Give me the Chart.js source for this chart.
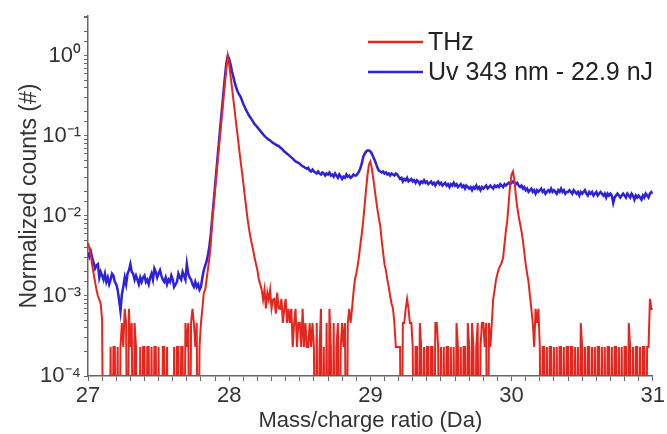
<!DOCTYPE html>
<html>
<head>
<meta charset="utf-8">
<script src="https://cdn.jsdelivr.net/npm/chart.js@4.4.1/dist/chart.umd.min.js"></script>
<style>
html,body{margin:0;padding:0;background:#fff;}
#wrap{width:667px;height:434px;}
</style>
</head>
<body>
<div id="wrap"><canvas id="c" width="667" height="434"></canvas></div>
<script>
// Sampling grid of the mass axis (Da)
const massStart = 27.00;
const massStep = 0.01;

// x-axis labelled ticks
const xTickLabels = [27, 28, 29, 30, 31];
// y-axis labelled decades
const yDecades = [1e-4, 1e-3, 1e-2, 1e-1, 1];
const yDecadeLabels = ['10\u207B\u2074', '10\u207B\u00B3', '10\u207B\u00B2', '10\u207B\u00B9', '10\u2070'];

const seriesNames = ['THz', 'Uv 343 nm - 22.9 nJ'];

// THz normalized counts, one value per 0.01 Da from 27.00 to 31.00 (0 = no counts)
const thz = [
 .0046,.0040,.0032,.0024,.0019,.0015,.0012,.0010,.0009,.0008,
 .0005,0,0,0,0,0,.00023,0,.00023,.00023,
 0,.00023,0,.00023,.00046,.00023,.00069,.00046,0,.00069,
 .00023,.00046,0,.00046,.00023,0,0,.00023,0,.00023,
 .00023,0,.00023,.00023,0,.00023,0,.00023,.00023,0,
 .00023,0,0,.00023,.00023,0,.00023,0,0,0,
 0,.00023,0,.00023,.00023,0,.00023,.00023,0,.00046,
 .00023,.00046,0,.00046,.00069,.00046,.00023,.00046,0,.00023,
 .00046,.00069,.0011,.0012,.0016,.0022,.0030,.0045,.0087,.0135,
 .021,.033,.052,.08,.125,.19,.30,.46,.70,1.0,
 .78,.56,.40,.28,.20,.14,.10,.07,.05,.036,
 .026,.018,.013,.0092,.0070,.0055,.0045,.0037,.0030,.0025,
 .0021,.0016,.0014,.0012,.0009,.0012,.0007,.0011,.0009,.0012,
 .0007,.0009,.00092,.0006,.0011,.0007,.00069,.00092,.00046,.00069,
 .00092,.00046,.00069,.00046,.00069,.00023,.00046,.00069,.00023,.00046,
 .00046,.00023,.00069,.00023,.00046,.00023,.00023,.00046,.00023,.00046,
 .00023,0,.00046,0,.00023,.00069,0,.00023,0,.00046,
 0,.00069,.00023,0,.00046,0,.00023,.00046,0,.00023,
 .00046,.00023,.00046,0,.00046,.00069,.00046,.00069,.0011,.0016,
 .0019,.0024,.0032,.0045,.0062,.009,.014,.022,.033,.044,
 .048,.040,.030,.022,.016,.012,.0095,.0075,.0050,.0035,
 .0025,.0021,.0016,.0013,.0010,.0008,.0007,.00046,.00023,.00023,
 .00023,.00023,0,.00046,.00046,.00069,.00092,.00069,.00046,.00046,
 .00023,0,.00023,.00023,0,.00046,.00023,0,.00023,0,
 .00023,.00023,0,.00023,.00023,0,.00046,.00046,.00023,0,
 .00023,0,.00023,0,.00023,.00023,0,.00023,0,.00023,
 0,.00046,.00023,0,.00023,0,.00023,.00023,0,.00046,
 .00023,0,.00046,.00023,0,.00023,.00046,0,.00023,.00046,
 .00046,.00023,.00046,0,.00046,.00023,.00046,.00092,.0012,.0016,
 .0019,.0022,.0024,.0026,.0030,.0045,.0065,.0090,.015,.025,
 .033,.036,.028,.018,.013,.010,.0080,.0065,.0050,.0035,
 .0025,.0019,.0015,.0010,.00069,.00046,.00023,.00069,.00046,.00069,
 .00023,0,.00023,.00023,0,.00023,0,.00023,.00023,0,
 .00023,0,.00023,0,.00023,.00023,0,.00023,0,.00023,
 .00023,0,.00023,.00023,0,.00023,0,.00023,0,.00046,
 .00023,0,.00023,0,.00023,.00023,0,.00023,0,.00023,
 0,.00023,.00023,0,.00023,0,.00023,0,.00023,.00023,
 0,.00023,0,.00023,.00023,0,.00023,0,.00023,0,
 .00023,.00023,0,.00046,.00023,0,.00023,0,.00023,.00023,
 0,.00023,0,.00023,.00023,0,.00023,.00023,.00092,.00069,
 .00069
];

// UV 343 nm normalized counts, one value per 0.01 Da from 27.00 to 31.00
const uv = [
 .0035,.0031,.0036,.0030,.0026,.0022,.0024,.0025,.0017,.0020,
 .0018,.0016,.0019,.0015,.0017,.0014,.0016,.0019,.0018,.0015,
 .0014,.0012,.0009,.00065,.00105,.0013,.0017,.0014,.0019,.0021,
 .0025,.0020,.0019,.0016,.0018,.0016,.0014,.0017,.0015,.0017,
 .0018,.0015,.0016,.0014,.0017,.0019,.0016,.0022,.0020,.0017,
 .0019,.0021,.0018,.0016,.0015,.0017,.0014,.0016,.0015,.0018,
 .0016,.0013,.0014,.0015,.0019,.0017,.0016,.0020,.0018,.0016,
 .0025,.0019,.0017,.0016,.0014,.0013,.0015,.0013,.0014,.0012,
 .0013,.0017,.0021,.0024,.0027,.0033,.0042,.0060,.0095,.015,
 .024,.038,.06,.095,.15,.23,.36,.55,.82,1.0,
 .92,.78,.64,.54,.46,.40,.36,.33,.31,.28,
 .25,.23,.21,.195,.18,.17,.16,.15,.14,.135,
 .128,.122,.116,.11,.105,.10,.096,.093,.09,.088,
 .085,.082,.08,.078,.076,.075,.072,.07,.067,.064,
 .062,.06,.058,.056,.054,.052,.05,.048,.047,.046,
 .045,.043,.042,.041,.04,.039,.04,.037,.036,.038,
 .036,.035,.034,.036,.034,.033,.035,.034,.032,.034,
 .033,.035,.032,.033,.031,.034,.032,.03,.033,.031,
 .029,.031,.030,.033,.031,.032,.030,.031,.033,.032,
 .032,.034,.036,.040,.046,.055,.060,.064,.066,.066,
 .064,.060,.055,.050,.045,.040,.037,.036,.035,.036,
 .034,.035,.033,.034,.032,.034,.033,.032,.034,.033,
 .031,.029,.030,.027,.029,.028,.030,.027,.028,.029,
 .027,.028,.026,.028,.027,.025,.027,.026,.028,.026,
 .027,.025,.026,.027,.025,.026,.024,.026,.027,.025,
 .026,.024,.025,.026,.024,.025,.023,.025,.024,.026,
 .024,.025,.023,.024,.025,.023,.024,.022,.024,.023,
 .022,.023,.021,.023,.022,.024,.022,.023,.021,.023,
 .022,.023,.024,.022,.023,.024,.023,.022,.024,.023,
 .024,.023,.025,.024,.023,.025,.024,.025,.026,.025,
 .026,.027,.026,.025,.026,.024,.023,.024,.022,.023,
 .021,.022,.020,.021,.022,.020,.021,.019,.021,.020,
 .021,.022,.020,.021,.019,.020,.021,.020,.022,.020,
 .021,.020,.019,.021,.020,.022,.020,.021,.019,.020,
 .020,.021,.020,.019,.021,.020,.019,.020,.018,.020,
 .019,.020,.021,.019,.018,.020,.019,.020,.018,.019,
 .020,.018,.019,.020,.019,.018,.019,.017,.019,.018,
 .019,.018,.0145,.017,.018,.019,.018,.017,.018,.019,
 .018,.017,.019,.018,.017,.019,.018,.016,.018,.017,
 .018,.017,.016,.018,.017,.019,.018,.017,.019,.020,
 .019
];

// zero counts cannot sit on a log axis: they are plotted below the axis floor
const belowFloor = 1e-6;
function toPoints(arr) {
  return arr.map((v, i) => ({ x: +(massStart + i * massStep).toFixed(2), y: v > 0 ? v : belowFloor }));
}

const TEXT = '#333333';
const AXIS = '#666666';
const FONT = '"Liberation Sans", Arial, sans-serif';

const whiteBg = {
  id: 'whiteBg',
  beforeDraw(chart) {
    const ctx = chart.ctx;
    ctx.save();
    ctx.fillStyle = '#ffffff';
    ctx.fillRect(0, 0, chart.width, chart.height);
    ctx.restore();
  }
};

const lineLegend = {
  id: 'lineLegend',
  afterDraw(chart) {
    const ctx = chart.ctx;
    const x0 = 368, x1 = 423, tx = 428;
    const rows = [42, 72];
    ctx.save();
    chart.data.datasets.forEach((ds, i) => {
      const y = rows[i];
      ctx.strokeStyle = ds.borderColor;
      ctx.lineWidth = 2.5;
      ctx.beginPath();
      ctx.moveTo(x0, y);
      ctx.lineTo(x1, y);
      ctx.stroke();
      ctx.fillStyle = '#222222';
      ctx.font = '25px ' + FONT;
      ctx.textBaseline = 'middle';
      ctx.textAlign = 'left';
      ctx.fillText(ds.label, tx, y + 1);
    });
    ctx.restore();
  }
};

new Chart(document.getElementById('c'), {
  type: 'line',
  data: {
    datasets: [
      {
        label: seriesNames[0],
        data: toPoints(thz),
        borderColor: '#e5261f',
        borderWidth: 2,
        pointRadius: 0,
        tension: 0,
        clip: { left: 0, right: 0, top: 10, bottom: 0 }
      },
      {
        label: seriesNames[1],
        data: toPoints(uv),
        borderColor: '#2d22d8',
        borderWidth: 2.5,
        pointRadius: 0,
        tension: 0,
        clip: { left: 0, right: 0, top: 10, bottom: 0 }
      }
    ]
  },
  options: {
    responsive: false,
    animation: false,
    devicePixelRatio: 1,
    layout: { padding: { top: 14, right: 14, left: 0, bottom: 0 } },
    plugins: {
      legend: { display: false },
      tooltip: { enabled: false }
    },
    scales: {
      x: {
        type: 'linear',
        min: 27,
        max: 31,
        afterFit(scale) { scale.height = 58; },
        ticks: {
          stepSize: 0.1,
          autoSkip: false,
          maxRotation: 0,
          padding: 2,
          color: TEXT,
          font: { family: FONT, size: 22 },
          callback(v) {
            const r = Math.round(v);
            return (Math.abs(v - r) < 1e-6 && xTickLabels.includes(r)) ? String(r) : '';
          }
        },
        grid: { display: true, drawOnChartArea: false, drawTicks: true, tickLength: 5, tickColor: AXIS, tickWidth: 1 },
        border: { display: true, color: AXIS, width: 1.5 },
        title: {
          display: true,
          text: 'Mass/charge ratio (Da)',
          color: TEXT,
          font: { family: FONT, size: 22 },
          padding: { top: 0, bottom: 0 }
        }
      },
      y: {
        type: 'logarithmic',
        min: 1e-4,
        max: 3.14,
        afterFit(scale) { scale.width = 88; },
        ticks: {
          autoSkip: false,
          padding: 3,
          color: TEXT,
          font: { family: FONT, size: 22 },
          callback(v) {
            const idx = yDecades.findIndex(d => Math.abs(v / d - 1) < 1e-6);
            return idx >= 0 ? yDecadeLabels[idx] : '';
          }
        },
        grid: { display: true, drawOnChartArea: false, drawTicks: true, tickLength: 4, tickColor: AXIS, tickWidth: 1 },
        border: { display: true, color: AXIS, width: 1.5 },
        title: {
          display: true,
          text: 'Normalized counts (#)',
          color: TEXT,
          font: { family: FONT, size: 23 },
          padding: { top: 16, bottom: 0 }
        }
      }
    }
  },
  plugins: [whiteBg, lineLegend]
});
</script>
</body>
</html>
